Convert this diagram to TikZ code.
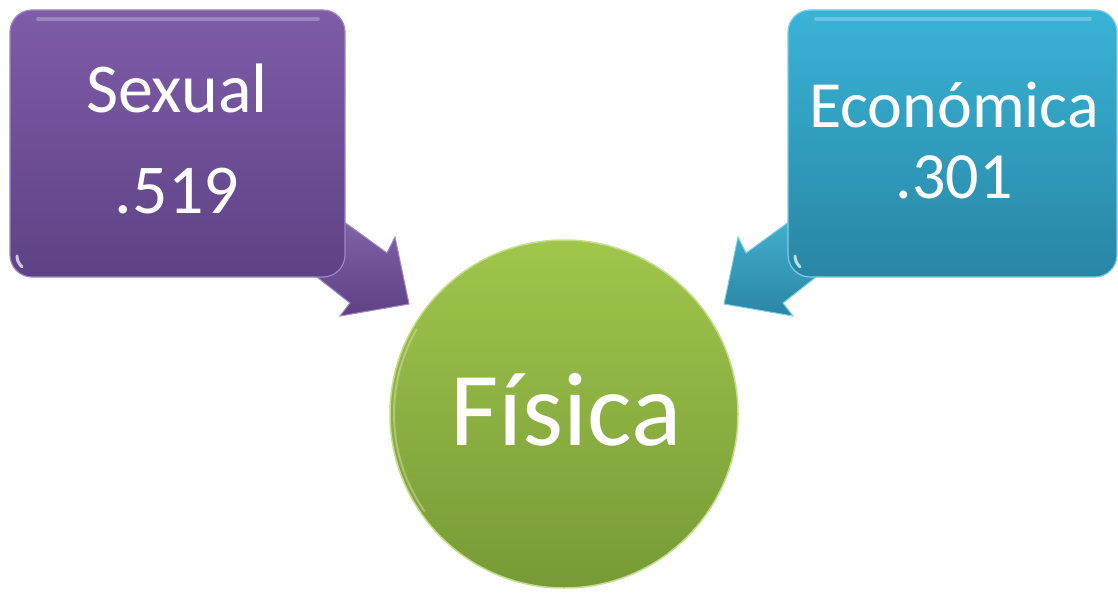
\documentclass[tikz,border=0pt]{standalone}
\usepackage{fontspec}
\setmainfont{Carlito}
\definecolor{pTop}{HTML}{7E5CA8}
\definecolor{pBot}{HTML}{5E4285}
\definecolor{pEdge}{HTML}{9F86C4}
\definecolor{bTop}{HTML}{39B3D7}
\definecolor{bBot}{HTML}{2886A3}
\definecolor{bEdge}{HTML}{7ACFE8}
\definecolor{gTop}{HTML}{A0C64C}
\definecolor{gBot}{HTML}{779A36}
\definecolor{gEdge}{HTML}{C4DE8A}
\tikzset{
  callbox/.style={rectangle, rounded corners=22pt, line width=1.2pt, inner sep=0pt},
  callarrow/.style={line width=1pt, line join=miter},
  lbl/.style={anchor=base, text=white, inner sep=0pt},
  gloss/.style={white, opacity=0.25, line width=4pt, line cap=round},
  spot/.style={white, opacity=0.7, line width=3pt, line cap=round},
}
\begin{document}
\begin{tikzpicture}[x=1pt,y=-1pt]
\useasboundingbox (0,0) rectangle (1118,594);
% arrows (behind the boxes)
\coordinate (pt) at (409,304);
\coordinate (bt) at (724,304);
\draw[callarrow, draw=pEdge, top color=pTop!90, bottom color=pBot]
  (300,190) -- (387,253) -- (395,237) -- (pt) -- (340,316) -- (350,303) -- (270,240) -- cycle;
\draw[callarrow, draw=bEdge, top color=bTop!90, bottom color=bBot]
  (833,190) -- (746,253) -- (738,237) -- (bt) -- (793,316) -- (783,303) -- (863,240) -- cycle;
% boxes
\node[callbox, draw=pEdge, top color=pTop, bottom color=pBot,
      minimum width=335pt, minimum height=267pt] (sex) at (177.5,143.5) {};
\node[callbox, draw=bEdge, top color=bTop, bottom color=bBot,
      minimum width=329pt, minimum height=267pt] (eco) at (952.5,143.5) {};
% circle
\node[circle, draw=gEdge, line width=1.5pt, top color=gTop, bottom color=gBot,
      minimum size=348pt, inner sep=0pt] (fis) at (564,414) {};
% glossy highlights
\draw[gloss] (38,19) -- (318,19);
\draw[gloss] (816,19) -- (1090,19);
\draw[spot] (17,256) arc[start angle=180, end angle=230, radius=14pt];
\draw[spot] (795,256) arc[start angle=180, end angle=230, radius=14pt];
\draw[white, opacity=0.3, line width=2pt] (fis.center) ++(150:170pt) arc[start angle=150, end angle=215, radius=170pt];
% labels
\node[lbl, font=\fontsize{70}{84}\selectfont] (sexA) at (177,112) {Sexual};
\node[lbl, font=\fontsize{70}{84}\selectfont] (sexB) at (177,213) {.519};
\node[lbl, font=\fontsize{66}{80}\selectfont] (ecoA) at (954,127) {Económica};
\node[lbl, font=\fontsize{66}{80}\selectfont] (ecoB) at (954,198) {.301};
\node[lbl, font=\fontsize{105}{126}\selectfont] (fisA) at (566,445) {Física};
\end{tikzpicture}
\end{document}
